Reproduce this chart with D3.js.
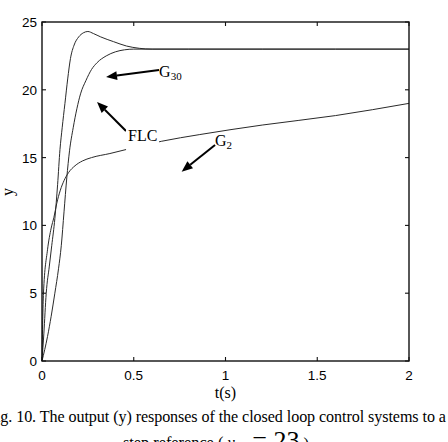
<!DOCTYPE html>
<meta charset="utf-8">
<style>
  body { margin: 0; background: #fff; }
  svg { display: block; }
</style>
<svg width="448" height="442"></svg>
<script src="https://cdn.jsdelivr.net/npm/d3@7"></script>
<script>

// curve data (t in s, y)
var flcT = [0, 0.01, 0.023, 0.04, 0.053, 0.07, 0.085, 0.098, 0.11, 0.125, 0.14, 0.155, 0.175, 0.2, 0.225, 0.25, 0.28, 0.32, 0.39, 0.46, 0.53, 0.6, 0.8, 1.2, 1.6, 2.0];
var flcY = [0, 2, 5, 7, 8.5, 10.5, 13, 15.6, 17.2, 19.0, 20.8, 22.3, 23.3, 23.9, 24.2, 24.3, 24.15, 23.9, 23.55, 23.23, 23.06, 23.0, 23.0, 23.0, 23.0, 23.0];

var g30T = [0, 0.03, 0.05, 0.07, 0.09, 0.105, 0.12, 0.135, 0.15, 0.17, 0.19, 0.21, 0.24, 0.27, 0.3, 0.35, 0.4, 0.45, 0.5, 0.6, 0.8, 1.2, 1.6, 2.0];
var g30Y = [0, 1.8, 3.3, 5.0, 6.8, 8.5, 11, 13.5, 15.5, 17.2, 18.6, 19.7, 20.7, 21.5, 22.0, 22.5, 22.8, 22.95, 23.0, 23.0, 23.0, 23.0, 23.0, 23.0];

var g2T = [0, 0.004, 0.008, 0.03, 0.05, 0.065, 0.08, 0.1, 0.12, 0.145, 0.18, 0.22, 0.27, 0.37, 0.46, 0.55, 0.65, 0.86, 1.2, 1.6, 2.0];
var g2Y = [0, 3, 5, 8.2, 9.8, 10.6, 11.6, 12.6, 13.3, 13.9, 14.4, 14.75, 15.0, 15.3, 15.6, 15.9, 16.2, 16.7, 17.4, 18.1, 19.0];

var xTicks = [0, 0.5, 1, 1.5, 2];
var xTickLabels = ["0", "0.5", "1", "1.5", "2"];
var yTicks = [0, 5, 10, 15, 20, 25];

// labels + arrows (data units: tail -> tip)
var labels = [
  { main: "G", sub: "30", t: 0.638, y: 20.94, tail: [0.638, 21.46], tip: [0.349, 20.94], bg: false },
  { main: "FLC", sub: "", t: 0.469, y: 16.22, tail: [0.458, 16.96], tip: [0.30, 19.1], bg: true },
  { main: "G", sub: "2", t: 0.943, y: 15.86, tail: [0.943, 15.93], tip: [0.761, 13.96], bg: false }
];

var svg = d3.select("svg");
var pL = 42, pR = 409, pT = 22, pB = 361;

var x = d3.scaleLinear().domain([0, 2]).range([pL, pR]);
var y = d3.scaleLinear().domain([0, 25]).range([pB, pT]);

var line = d3.line()
    .x(function(d) { return x(d[0]); })
    .y(function(d) { return y(d[1]); })
    .curve(d3.curveMonotoneX);

function pairs(ts, ys) { return ts.map(function(t, i) { return [t, ys[i]]; }); }

[pairs(g2T, g2Y), pairs(g30T, g30Y), pairs(flcT, flcY)].forEach(function(d) {
  svg.append("path")
      .attr("d", line(d))
      .attr("fill", "none")
      .attr("stroke", "#2a2a2a")
      .attr("stroke-width", 1);
});

// box + inward ticks
svg.append("rect")
    .attr("x", pL).attr("y", pT)
    .attr("width", pR - pL).attr("height", pB - pT)
    .attr("fill", "none").attr("stroke", "#111").attr("stroke-width", 1.4);

var tk = 4;
var tickG = svg.append("g").attr("stroke", "#111").attr("stroke-width", 1.1);
xTicks.forEach(function(v) {
  tickG.append("line").attr("x1", x(v)).attr("x2", x(v)).attr("y1", pB).attr("y2", pB - tk);
  tickG.append("line").attr("x1", x(v)).attr("x2", x(v)).attr("y1", pT).attr("y2", pT + tk);
});
yTicks.forEach(function(v) {
  tickG.append("line").attr("x1", pL).attr("x2", pL + tk).attr("y1", y(v)).attr("y2", y(v));
  tickG.append("line").attr("x1", pR).attr("x2", pR - tk).attr("y1", y(v)).attr("y2", y(v));
});

var sans = "Liberation Sans, Arial, sans-serif";
var serif = "Liberation Serif, Times New Roman, serif";

svg.selectAll(".xl").data(xTicks).enter().append("text")
    .attr("x", function(d) { return x(d); })
    .attr("y", 380)
    .attr("text-anchor", "middle")
    .attr("font-family", sans).attr("font-size", 13.5)
    .text(function(d, i) { return xTickLabels[i]; });

svg.selectAll(".yl").data(yTicks).enter().append("text")
    .attr("x", 37)
    .attr("y", function(d) { return y(d) + 5; })
    .attr("text-anchor", "end")
    .attr("font-family", sans).attr("font-size", 13.5)
    .text(function(d) { return d; });

svg.append("text")
    .attr("x", x(1)).attr("y", 398)
    .attr("text-anchor", "middle")
    .attr("font-family", serif).attr("font-size", 16)
    .text("t(s)");

svg.append("text")
    .attr("transform", "translate(13," + 192 + ") rotate(-90)")
    .attr("text-anchor", "middle")
    .attr("font-family", serif).attr("font-size", 16)
    .text("y");

// annotations
labels.forEach(function(a) {
  var x1 = x(a.tail[0]), y1 = y(a.tail[1]), x2 = x(a.tip[0]), y2 = y(a.tip[1]);
  var ang = Math.atan2(y2 - y1, x2 - x1), hl = 11, hw = 4.5;
  var bx = x2 - hl * Math.cos(ang), by = y2 - hl * Math.sin(ang);
  svg.append("line")
      .attr("x1", x1).attr("y1", y1).attr("x2", bx).attr("y2", by)
      .attr("stroke", "#000").attr("stroke-width", 2);
  svg.append("path")
      .attr("d", "M" + x2 + "," + y2 +
        "L" + (bx + hw * Math.sin(ang)) + "," + (by - hw * Math.cos(ang)) +
        "L" + (bx - hw * Math.sin(ang)) + "," + (by + hw * Math.cos(ang)) + "Z")
      .attr("fill", "#000");

  if (a.bg) {
    svg.append("rect")
        .attr("x", x(a.t) - 2).attr("y", y(a.y) - 14)
        .attr("width", 33).attr("height", 24)
        .attr("fill", "#fff");
  }
  var t = svg.append("text")
      .attr("x", x(a.t)).attr("y", y(a.y))
      .attr("font-family", serif).attr("font-size", 16);
  t.append("tspan").text(a.main);
  if (a.sub) t.append("tspan").attr("dy", 3).attr("font-size", 11).text(a.sub);
});

// caption (cut off by the frame, as in the source)
svg.append("text")
    .attr("x", -13).attr("y", 422)
    .attr("font-family", serif).attr("font-size", 16.1)
    .attr("textLength", 459).attr("lengthAdjust", "spacing")
    .text("Fig. 10. The output (y) responses of the closed loop control systems to a");

var cap2 = svg.append("text")
    .attr("x", 123).attr("y", 448)
    .attr("font-family", serif).attr("font-size", 16.3);
cap2.append("tspan").text("step reference ( ");
cap2.append("tspan").attr("font-style", "italic").text("y");
cap2.append("tspan").attr("dy", 3).attr("font-size", 11).text("r");
cap2.append("tspan").attr("dy", -2).attr("dx", 14).attr("font-size", 26).text("= 23");
cap2.append("tspan").text(" )");

</script>
